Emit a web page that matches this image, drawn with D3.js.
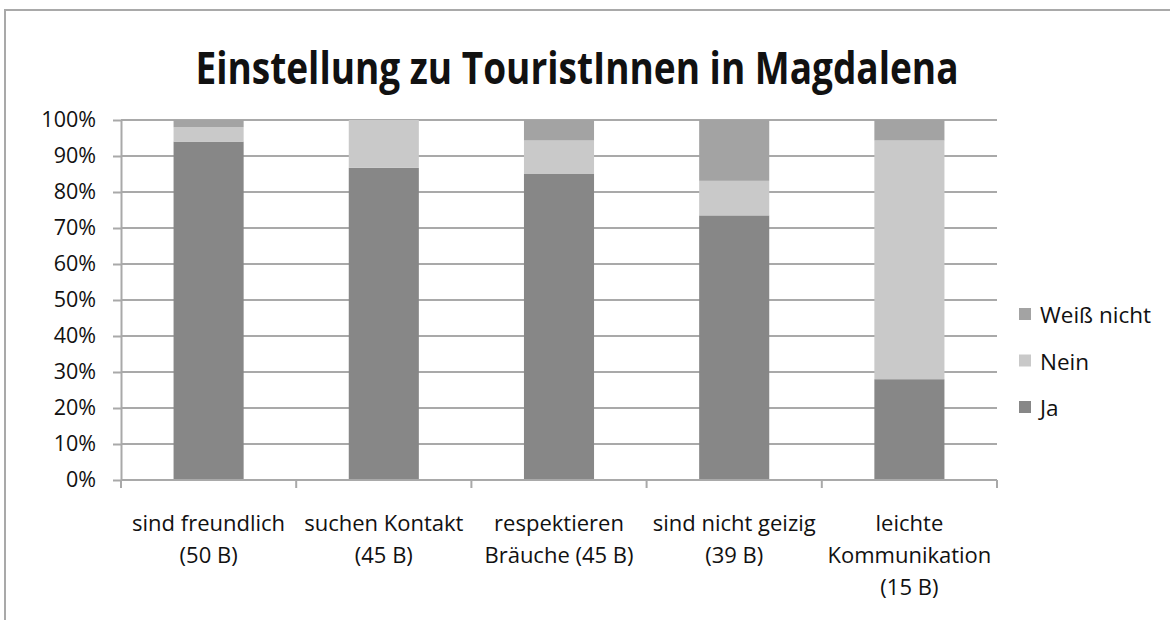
<!DOCTYPE html>
<html>
<head>
<meta charset="utf-8">
<script src="https://cdn.jsdelivr.net/npm/d3@7"></script>
<style>
  body { margin: 0; background: #fff; }
  svg text { font-family: 'Open Sans', 'Noto Sans', sans-serif; fill: #111; }
</style>
</head>
<body>
<div id="chart"></div>
<script>
// categories: each label split in lines as printed under the axis
const categories = ['freundlich', 'kontakt', 'braeuche', 'geizig', 'kommunikation'];
const categoryLabels = [
  ['sind freundlich', '(50 B)'],
  ['suchen Kontakt', '(45 B)'],
  ['respektieren', 'Bräuche (45 B)'],
  ['sind nicht geizig', '(39 B)'],
  ['leichte', 'Kommunikation', '(15 B)']
];
// percent shares
const ja = [94, 86.7, 85, 73.5, 28];
const nein = [4, 13.3, 9.3, 9.6, 66.3];
const weissNicht = [2, 0, 5.7, 16.9, 5.7];
const seriesNames = ['Ja', 'Nein', 'Weiß nicht'];
const yTicks = [0, 10, 20, 30, 40, 50, 60, 70, 80, 90, 100];

const colors = { 'Ja': '#878787', 'Nein': '#c9c9c9', 'Weiß nicht': '#a3a3a3' };

const width = 1170, height = 620;
const margin = { top: 120, right: 173, bottom: 140, left: 121 };

const svg = d3.select('#chart')
  .append('svg')
  .attr('width', width)
  .attr('height', height);

// outer frame (top and left edge visible)
svg.append('path')
  .attr('d', `M5,${height} L5,10 L${width},10`)
  .attr('fill', 'none')
  .attr('stroke', '#a9a9a9')
  .attr('stroke-width', 2);

svg.append('text')
  .attr('x', 577)
  .attr('y', 84)
  .attr('text-anchor', 'middle')
  .attr('font-size', 45)
  .attr('font-weight', 'bold')
  .attr('textLength', 763)
  .attr('lengthAdjust', 'spacingAndGlyphs')
  .text('Einstellung zu TouristInnen in Magdalena');

const plotW = width - margin.left - margin.right,
      plotH = height - margin.top - margin.bottom;

const g = svg.append('g')
  .attr('transform', `translate(${margin.left},${margin.top})`);

const x = d3.scaleBand()
  .domain(categories)
  .range([0, plotW])
  .paddingInner(0.6)
  .paddingOuter(0.3);

const y = d3.scaleLinear()
  .domain([0, 100])
  .range([plotH, 0]);

// gridlines
g.append('g')
  .selectAll('line')
  .data(yTicks.filter(d => d > 0))
  .enter().append('line')
  .attr('x1', 0)
  .attr('x2', plotW)
  .attr('y1', d => y(d))
  .attr('y2', d => y(d))
  .attr('stroke', '#a9a9a9')
  .attr('stroke-width', 2);

const table = categories.map((c, i) => ({ cat: c, 'Ja': ja[i], 'Nein': nein[i], 'Weiß nicht': weissNicht[i] }));
const stacked = d3.stack().keys(seriesNames)(table);

g.selectAll('.series')
  .data(stacked)
  .enter().append('g')
  .attr('class', 'series')
  .attr('fill', d => colors[d.key])
  .selectAll('rect')
  .data(d => d)
  .enter().append('rect')
  .attr('x', d => x(d.data.cat))
  .attr('width', x.bandwidth())
  .attr('y', d => y(d[1]))
  .attr('height', d => y(d[0]) - y(d[1]));

// y axis
const yAxis = g.append('g')
  .call(d3.axisLeft(y).tickValues(yTicks).tickFormat(d => d + '%').tickSize(8).tickSizeOuter(0));
yAxis.select('.domain').attr('stroke', '#a9a9a9').attr('stroke-width', 2);
yAxis.selectAll('.tick line').attr('stroke', '#a9a9a9').attr('stroke-width', 2);
yAxis.selectAll('.tick text')
  .attr('x', -25)
  .attr('font-size', 21.5)
  .attr('font-family', null)
  .attr('fill', '#111');

// x axis with ticks on category boundaries
const xAxis = g.append('g')
  .attr('transform', `translate(0,${plotH})`);
xAxis.append('line')
  .attr('x1', 0).attr('x2', plotW)
  .attr('stroke', '#a9a9a9').attr('stroke-width', 2);
xAxis.selectAll('.bound')
  .data(d3.range(categories.length + 1))
  .enter().append('line')
  .attr('class', 'bound')
  .attr('x1', i => i * x.step())
  .attr('x2', i => i * x.step())
  .attr('y1', 0).attr('y2', 8)
  .attr('stroke', '#a9a9a9').attr('stroke-width', 2);

xAxis.selectAll('.xlabel')
  .data(categories)
  .enter().append('text')
  .attr('class', 'xlabel')
  .attr('text-anchor', 'middle')
  .attr('font-size', 22)
  .each(function (c, i) {
    const t = d3.select(this);
    categoryLabels[i].forEach((line, j) => {
      t.append('tspan')
        .attr('x', x(c) + x.bandwidth() / 2)
        .attr('y', 51 + j * 32)
        .text(line);
    });
  });

// legend, top entry is the top stack segment
const legendItems = seriesNames.slice().reverse();
const legend = svg.append('g')
  .attr('transform', 'translate(1019,308)');
const li = legend.selectAll('g')
  .data(legendItems)
  .enter().append('g')
  .attr('transform', (d, i) => `translate(0,${i * 46.5})`);
li.append('rect')
  .attr('width', 12)
  .attr('height', 12)
  .attr('fill', d => colors[d]);
li.append('text')
  .attr('x', 21)
  .attr('y', 15)
  .attr('font-size', 22.5)
  .text(d => d);
</script>
</body>
</html>
